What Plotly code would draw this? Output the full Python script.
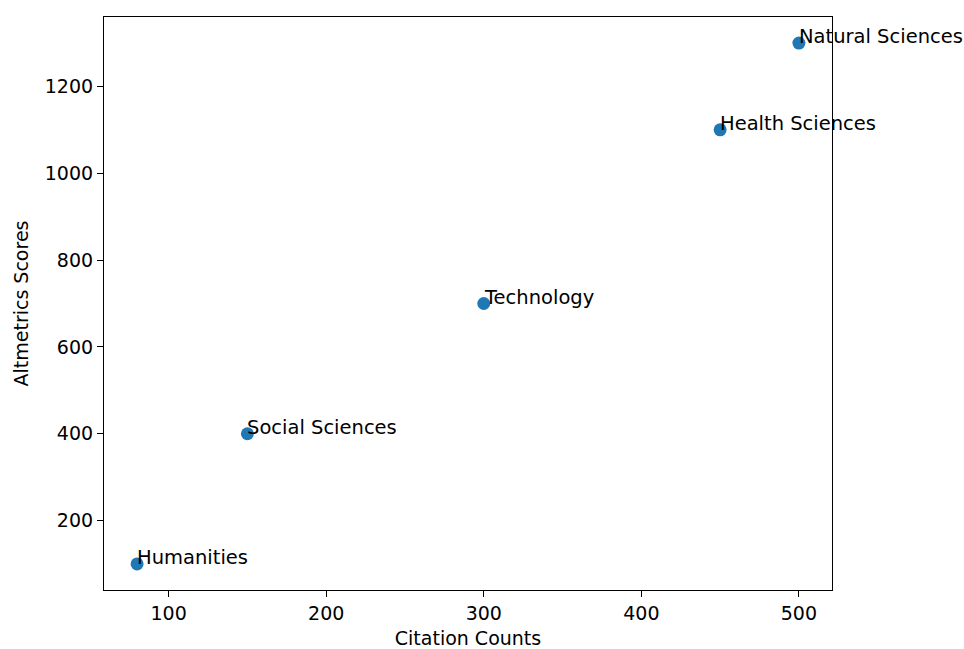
import plotly.graph_objects as go

fields = ["Humanities", "Social Sciences", "Technology", "Health Sciences", "Natural Sciences"]
citations = [80, 150, 300, 450, 500]
altmetrics = [100, 400, 700, 1100, 1300]

x_ticks = [100, 200, 300, 400, 500]
y_ticks = [200, 400, 600, 800, 1000, 1200]

FONT = "DejaVu Sans"
FS = 19

fig = go.Figure(
    go.Scatter(
        x=citations,
        y=altmetrics,
        mode="markers",
        marker=dict(color="#1f77b4", size=13),
        cliponaxis=False,
        showlegend=False,
    )
)

# Field names placed with their baseline at each point, extending right
for name, cx, ay in zip(fields, citations, altmetrics):
    fig.add_annotation(
        x=cx, y=ay, text=name, showarrow=False,
        xanchor="left", yanchor="bottom", xshift=-2, yshift=-7,
        font=dict(family=FONT, size=19.5, color="black"),
    )

axis_common = dict(
    showline=True, linecolor="black", linewidth=1.2, mirror=True,
    ticks="outside", ticklen=6, tickwidth=1.2, tickcolor="black",
    showgrid=False, zeroline=False, automargin=False,
    tickfont=dict(family=FONT, size=FS, color="black"),
)

fig.update_xaxes(
    range=[59, 521], tickvals=x_ticks,
    title=dict(text="Citation Counts", font=dict(family=FONT, size=FS, color="black"), standoff=10),
    **axis_common,
)
fig.update_yaxes(
    range=[40, 1360], tickvals=y_ticks,
    title=dict(text="Altmetrics Scores", font=dict(family=FONT, size=FS, color="black"), standoff=11),
    **axis_common,
)

fig.update_layout(
    width=964, height=649,
    margin=dict(l=104, r=132, t=17, b=59),
    plot_bgcolor="white", paper_bgcolor="white",
    font=dict(family=FONT, size=FS, color="black"),
)

fig.write_html("out.html")
